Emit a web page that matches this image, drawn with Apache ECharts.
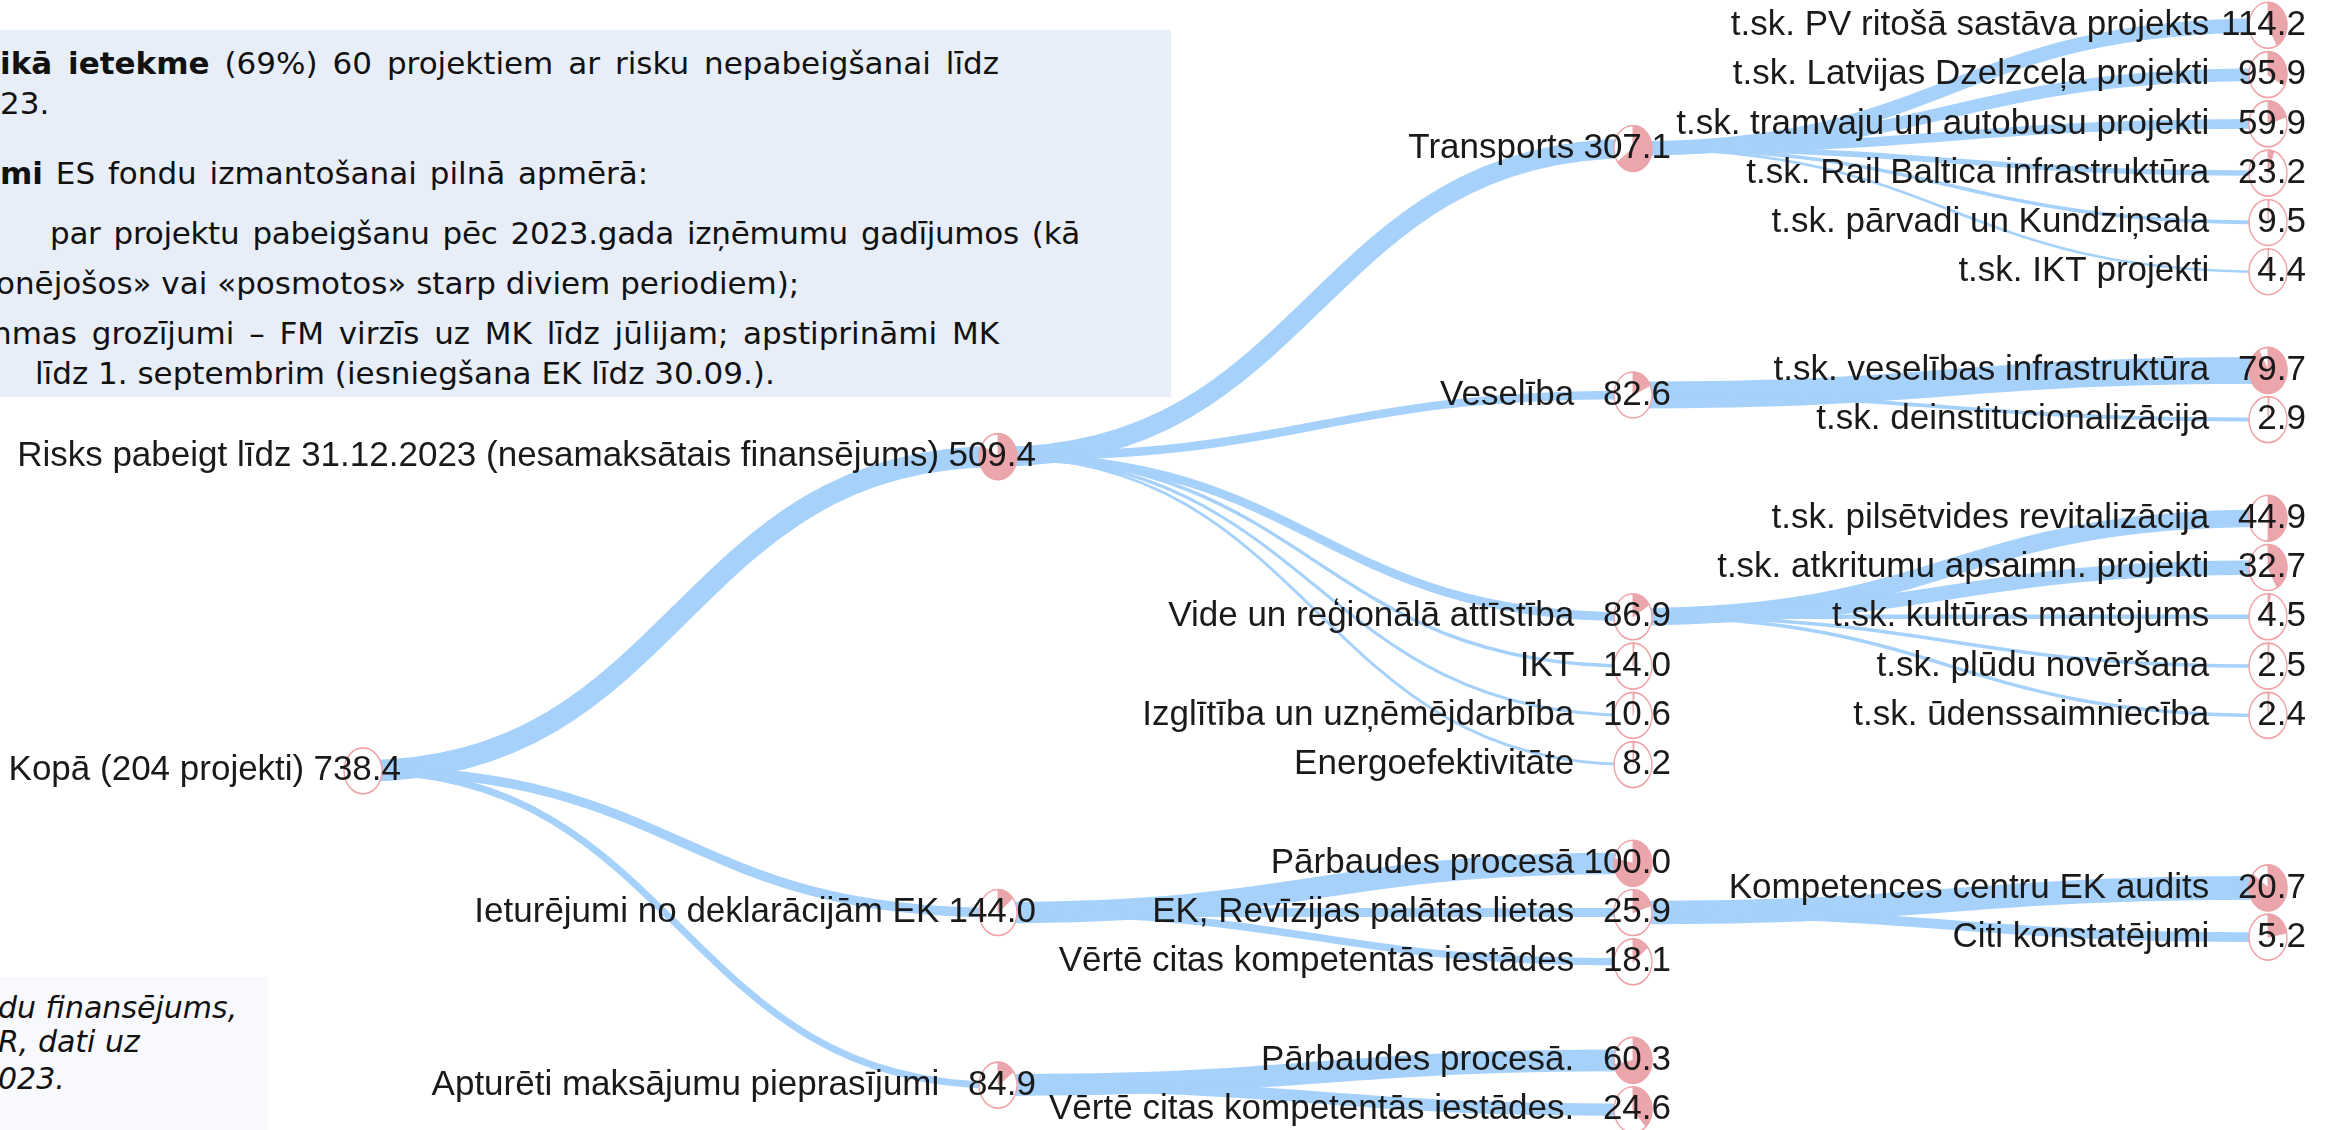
<!DOCTYPE html>
<html>
<head>
<meta charset="utf-8">
<script src="https://cdn.jsdelivr.net/npm/echarts@6/dist/echarts.min.js"></script>
<style>
  html, body { margin: 0; padding: 0; background: #ffffff; }
  body { width: 2333px; height: 1130px; overflow: hidden; position: relative; }
  .box { position: absolute; }
  .ln { position: absolute; white-space: nowrap; font-family: "DejaVu Sans", sans-serif; font-size: 31px; line-height: 40px; height: 40px; color: #111; }
  .just { text-align: justify; text-align-last: justify; }
  .it { font-style: italic; font-size: 30px; line-height: 36px; height: 36px; }
  #chart { position: absolute; left: 0; top: 0; width: 2333px; height: 1130px; z-index: 2; }
</style>
</head>
<body>
<div class="box" style="left:0;top:30px;width:1171px;height:367px;background:#e8eef8;"></div>
<div class="ln just" style="left:0;top:43px;width:999px;"><b>ikā ietekme</b> (69%) 60 projektiem ar risku nepabeigšanai līdz</div>
<div class="ln" style="left:0;top:83px;">23.</div>
<div class="ln" style="left:0;top:153px;word-spacing:3px;"><b>mi</b> ES fondu izmantošanai pilnā apmērā:</div>
<div class="ln just" style="left:50px;top:213px;width:1030px;letter-spacing:-0.3px;">par projektu pabeigšanu pēc 2023.gada izņēmumu gadījumos (kā</div>
<div class="ln" style="left:-4px;top:263px;">onējošos» vai «posmotos» starp diviem periodiem);</div>
<div class="ln just" style="left:-8px;top:313px;width:1007px;">nmas grozījumi – FM virzīs uz MK līdz jūlijam; apstiprināmi MK</div>
<div class="ln" style="left:35px;top:353px;">līdz 1. septembrim (iesniegšana EK līdz 30.09.).</div>

<div class="box" style="left:0;top:977px;width:268px;height:153px;background:#f8f9fc;"></div>
<div class="ln it" style="left:-2px;top:990px;">du finansējums,</div>
<div class="ln it" style="left:-2px;top:1024px;">R, dati uz</div>
<div class="ln it" style="left:-2px;top:1061px;">023.</div>

<div id="chart"></div>
<script>
// ---- data ----
const nodeNames = [
  'Kopā (204 projekti)',
  'Risks pabeigt līdz 31.12.2023 (nesamaksātais finansējums)',
  'Transports',
  't.sk. PV ritošā sastāva projekts',
  't.sk. Latvijas Dzelzceļa projekti',
  't.sk. tramvaju un autobusu projekti',
  't.sk. Rail Baltica infrastruktūra',
  't.sk. pārvadi un Kundziņsala',
  't.sk. IKT projekti',
  'Veselība',
  't.sk. veselības infrastruktūra',
  't.sk. deinstitucionalizācija',
  'Vide un reģionālā attīstība',
  't.sk. pilsētvides revitalizācija',
  't.sk. atkritumu apsaimn. projekti',
  't.sk. kultūras mantojums',
  't.sk. plūdu novēršana',
  't.sk. ūdenssaimniecība',
  'IKT',
  'Izglītība un uzņēmējdarbība',
  'Energoefektivitāte',
  'Ieturējumi no deklarācijām EK',
  'Pārbaudes procesā',
  'EK, Revīzijas palātas lietas',
  'Kompetences centru EK audits',
  'Citi konstatējumi',
  'Vērtē citas kompetentās iestādes',
  'Apturēti maksājumu pieprasījumi',
  'Pārbaudes procesā.',
  'Vērtē citas kompetentās iestādes.'
];
const nodeValues = [738.4, 509.4, 307.1, 114.2, 95.9, 59.9, 23.2, 9.5, 4.4,
  82.6, 79.7, 2.9, 86.9, 44.9, 32.7, 4.5, 2.5, 2.4, 14.0, 10.6, 8.2,
  144.0, 100.0, 25.9, 20.7, 5.2, 18.1, 84.9, 60.3, 24.6];
const parentIndex = [-1, 0, 1, 2, 2, 2, 2, 2, 2,
  1, 9, 9, 1, 12, 12, 12, 12, 12, 1, 1, 1,
  0, 21, 21, 23, 23, 21, 0, 27, 27];
// filled share of each node circle (pie glyph)
const filledShare = [0, 0.83, 0.65, 0.42, 0.33, 0.2, 0.05, 0.01, 0.006,
  0.18, 0.92, 0.01, 0.16, 0.5, 0.42, 0.02, 0.01, 0.01, 0.01, 0.01, 0.01,
  0.14, 0.78, 0.2, 0.85, 0.22, 0.14, 0.15, 0.72, 0.38];

// ---- helpers ----
function linkWidth(i) {
  const r = nodeValues[i] / nodeValues[parentIndex[i]];
  return 1.5 + 26 * Math.pow(r, 0.72);
}
function sectorPath(f) {
  const box = 'M-1 -1 M1 1 ';
  if (f <= 0) return box + 'M0 0 Z';
  if (f >= 0.999) return box + 'M0 -1 A1 1 0 1 1 0 1 A1 1 0 1 1 0 -1 Z';
  const a = 2 * Math.PI * f;
  const x = Math.sin(a).toFixed(4), y = (-Math.cos(a)).toFixed(4);
  return box + 'M0 0 L0 -1 A1 1 0 ' + (f > 0.5 ? 1 : 0) + ' 1 ' + x + ' ' + y + ' Z';
}
function buildTree(decorate) {
  const items = nodeNames.map(function (n, i) {
    return Object.assign({ name: n, value: nodeValues[i], children: [] }, decorate(i));
  });
  items.forEach(function (it, i) {
    if (parentIndex[i] >= 0) items[parentIndex[i]].children.push(it);
  });
  items.forEach(function (it) { if (!it.children.length) delete it.children; });
  return [items[0]];
}

const FONT = '"Liberation Sans", Arial, sans-serif';
const FS = 35;
const labelOpt = {
  show: true,
  position: 'inside',
  align: 'right',
  verticalAlign: 'middle',
  offset: [38, 0],
  fontFamily: FONT,
  fontSize: FS,
  color: '#1a1a1a',
  formatter: function (p) {
    return '{n|' + p.name + '} {v|' + Number(p.value).toFixed(1) + '}';
  },
  rich: {
    n: { fontFamily: FONT, fontSize: FS, color: '#1a1a1a' },
    v: { fontFamily: FONT, fontSize: FS, color: '#1a1a1a', width: 87, align: 'right' }
  }
};

const common = {
  type: 'tree',
  orient: 'LR',
  layout: 'orthogonal',
  edgeShape: 'curve',
  left: 363, top: -24, width: 1905, height: 1183,
  expandAndCollapse: false,
  initialTreeDepth: -1,
  roam: false,
  animation: false,
  silent: true,
  symbolSize: [38, 46],
  emphasis: { disabled: true }
};

const chart = echarts.init(document.getElementById('chart'), null, { renderer: 'canvas' });
chart.setOption({
  backgroundColor: 'transparent',
  series: [
    Object.assign({}, common, {
      z: 1,
      data: buildTree(function (i) { return i ? { lineStyle: { width: linkWidth(i) } } : {}; }),
      symbol: 'circle',
      symbolSize: 2,
      itemStyle: { color: 'rgba(0,0,0,0)', borderWidth: 0 },
      lineStyle: { color: '#a6d1fa', curveness: 0.5 },
      label: { show: false },
      leaves: { label: { show: false } }
    }),
    Object.assign({}, common, {
      z: 2,
      data: buildTree(function () { return {}; }),
      symbol: 'circle',
      itemStyle: { color: '#ffffff', borderColor: '#f0a2a7', borderWidth: 1.5 },
      lineStyle: { color: 'rgba(0,0,0,0)', width: 0 },
      label: { show: false },
      leaves: { label: { show: false } }
    }),
    Object.assign({}, common, {
      z: 3,
      data: buildTree(function (i) { return { symbol: 'path://' + sectorPath(filledShare[i]) }; }),
      itemStyle: { color: '#eaa6ab', borderColor: '#eaa6ab', borderWidth: 1 },
      lineStyle: { color: 'rgba(0,0,0,0)', width: 0 },
      label: labelOpt,
      leaves: { label: labelOpt }
    })
  ]
});
</script>
</body>
</html>
